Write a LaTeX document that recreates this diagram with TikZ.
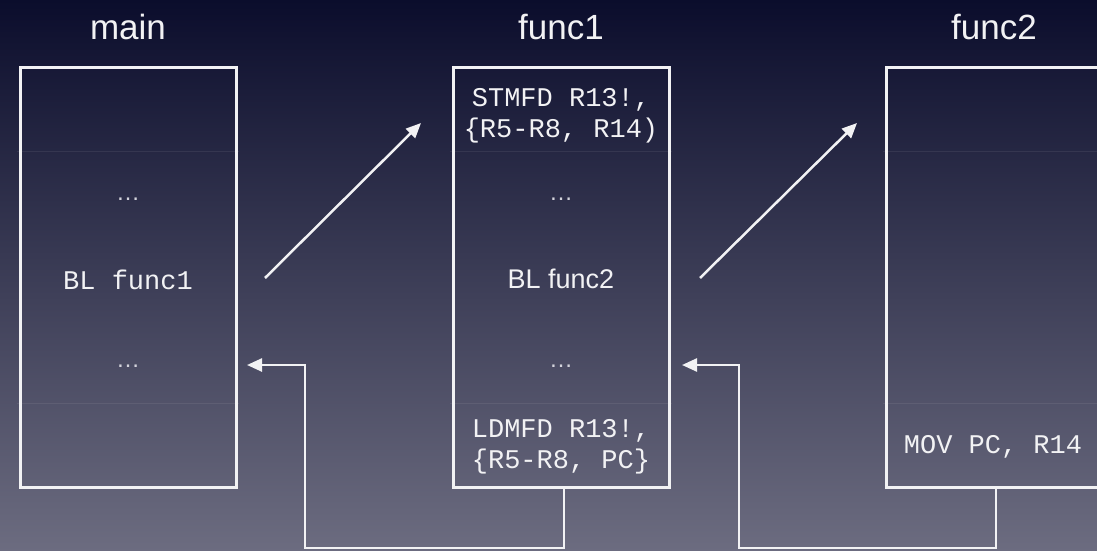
\documentclass[tikz,border=0pt]{standalone}
\usepackage{fontspec}
\setmainfont{Liberation Sans}
\setmonofont{Liberation Mono}
\usetikzlibrary{arrows.meta}

\definecolor{bgtop}{HTML}{0B0D2C}
\definecolor{bgmid}{HTML}{363756}
\definecolor{bgbot}{HTML}{6C6C80}
\definecolor{ink}{HTML}{F2F2F4}
\definecolor{dots}{HTML}{D4D4DC}

\tikzset{
  framebox/.style={draw=ink, line width=3pt, minimum width=216pt,
    minimum height=419pt, inner sep=0pt, outer sep=0pt},
  title/.style={text=ink, font=\fontsize{35}{40}\selectfont, inner sep=0pt},
  code/.style={text=ink, font=\ttfamily\fontsize{27}{31}\selectfont,
    align=center, inner sep=0pt},
  plain/.style={text=ink, font=\fontsize{27}{31}\selectfont, inner sep=0pt},
  ellip/.style={text=dots, font=\fontsize{24}{28}\selectfont, inner sep=0pt},
  rowline/.style={draw=white, opacity=0.07, line width=0.8pt},
  flow/.style={draw=ink, line width=2.5pt,
    -{Triangle[length=15pt,width=13pt]}},
}

\begin{document}
\begin{tikzpicture}[x=1pt, y=-1pt]
  \useasboundingbox (0,0) rectangle (1097,551);
  \clip (0,0) rectangle (1097,551);
  \shade[top color=bgtop, middle color=bgmid, bottom color=bgbot]
    (0,0) rectangle (1097,551);

  % column titles
  \node[title] (tmain) at (128,27) {main};
  \node[title] (tf1)   at (561,27) {func1};
  \node[title] (tf2)   at (994,27) {func2};

  % faint row separators behind the frames
  \foreach \cx in {128,561,994} {
    \draw[rowline] (\cx-111,151) -- (\cx+111,151);
    \draw[rowline] (\cx-111,403) -- (\cx+111,403);
  }

  % frames
  \node[framebox] (bmain) at (128,277.5) {};
  \node[framebox] (bf1)   at (561,277.5) {};
  \node[framebox] (bf2)   at (994,277.5) {};

  % main
  \node[ellip] (m1) at (128,199) {\dots};
  \node[code]  (m2) at (128,280) {BL func1};
  \node[ellip] (m3) at (128,366) {\dots};

  % func1
  \node[code]  (f1a) at (561,116) {STMFD R13!,\\\{R5-R8, R14)};
  \node[ellip] (f1b) at (561,199) {\dots};
  \node[plain] (f1c) at (561,279) {BL func2};
  \node[ellip] (f1d) at (561,366) {\dots};
  \node[code]  (f1e) at (561,447) {LDMFD R13!,\\\{R5-R8, PC\}};

  % func2
  \node[code]  (f2a) at (993,447) {MOV PC, R14};

  % calls
  \coordinate (c1s) at (265,278);
  \coordinate (c1e) at (421,123);
  \coordinate (c2s) at (700,278);
  \coordinate (c2e) at (857,123);
  \draw[flow] (c1s) -- (c1e);
  \draw[flow] (c2s) -- (c2e);

  % returns
  \coordinate (r1) at (247,365);
  \coordinate (r2) at (682,365);
  \draw[flow] (bf1.south -| 564,0) -- (564,548) -- (305,548) -- (305,365) -- (r1);
  \draw[flow] (bf2.south -| 996,0) -- (996,548) -- (739,548) -- (739,365) -- (r2);
\end{tikzpicture}
\end{document}
